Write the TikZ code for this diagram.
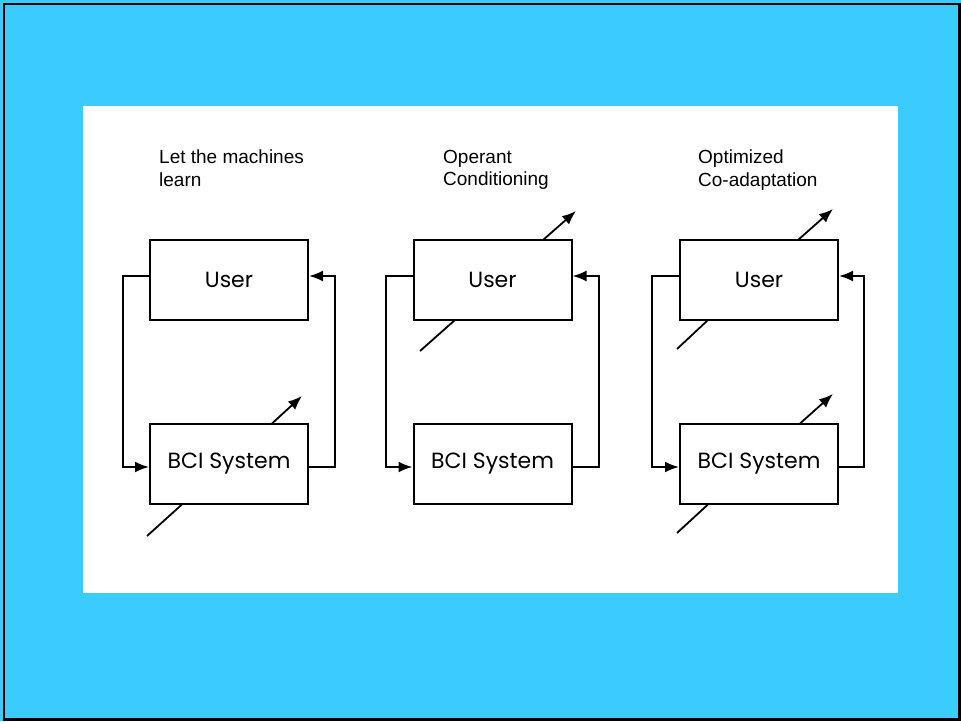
\documentclass[tikz,border=0pt]{standalone}
\usepackage{fontspec}
\setmainfont{Liberation Sans}
\newfontfamily\boxfont{Poppins}
\usetikzlibrary{arrows.meta}
\definecolor{bgblue}{RGB}{58,204,255}
\tikzset{
  px/.style={x=1pt,y=-1pt},
  blk/.style={draw=black, line width=2pt, minimum width=158pt, minimum height=80pt, inner sep=0pt, font=\boxfont\fontsize{22}{26}\selectfont},
  conn/.style={line width=2pt, -{Latex[length=14pt,width=11pt]}},
  ttl/.style={anchor=north west, align=left, inner sep=0pt, font=\fontsize{19}{22.5}\selectfont},
  var/.style={line width=1.8pt},
  vararr/.style={line width=1.8pt, -{Latex[length=14pt,width=11pt]}}
}
\begin{document}
\begin{tikzpicture}[px]
\useasboundingbox (0,0) rectangle (961,721);
\fill[bgblue] (0,0) rectangle (961,721);
\draw[black, line width=2.5pt] (4,4) rectangle (959.5,719.5);
\fill[white] (83,106) rectangle (898,593);

% Panel 1
\node[ttl] (t1) at (159,150) {Let the machines\\learn};
\node[blk] (u1) at (229,280) {User};
\node[blk] (b1) at (229,463.5) {BCI System};
\coordinate (l1a) at (123,276);
\coordinate (l1b) at (123,467);
\coordinate (r1a) at (335,467);
\coordinate (r1b) at (335,276);
\draw[conn] (u1.west |- l1a) -- (l1a) -- (l1b) -- (b1.west |- l1b);
\draw[conn] (b1.east |- r1a) -- (r1a) -- (r1b) -- (u1.east |- r1b);
\coordinate (v1a) at (147,536);
\coordinate (v1b) at (183,503.5);
\coordinate (v1c) at (272,423.5);
\coordinate (v1d) at (302,396);
\draw[var] (v1a) -- (v1b);
\draw[vararr] (v1c) -- (v1d);

% Panel 2
\node[ttl] (t2) at (443,150) {Operant\\Conditioning};
\node[blk] (u2) at (492.5,280) {User};
\node[blk] (b2) at (492.5,463.5) {BCI System};
\coordinate (l2a) at (386,276);
\coordinate (l2b) at (386,467);
\coordinate (r2a) at (599,467);
\coordinate (r2b) at (599,276);
\draw[conn] (u2.west |- l2a) -- (l2a) -- (l2b) -- (b2.west |- l2b);
\draw[conn] (b2.east |- r2a) -- (r2a) -- (r2b) -- (u2.east |- r2b);
\coordinate (v2a) at (420,351);
\coordinate (v2b) at (455,320);
\coordinate (v2c) at (543,240);
\coordinate (v2d) at (576,211);
\draw[var] (v2a) -- (v2b);
\draw[vararr] (v2c) -- (v2d);

% Panel 3
\node[ttl] (t3) at (698,150) {Optimized\\Co-adaptation};
\node[blk] (u3) at (759,280) {User};
\node[blk] (b3) at (759,463.5) {BCI System};
\coordinate (l3a) at (652,276);
\coordinate (l3b) at (652,467);
\coordinate (r3a) at (864,467);
\coordinate (r3b) at (864,276);
\draw[conn] (u3.west |- l3a) -- (l3a) -- (l3b) -- (b3.west |- l3b);
\draw[conn] (b3.east |- r3a) -- (r3a) -- (r3b) -- (u3.east |- r3b);
\coordinate (v3a) at (677,349);
\coordinate (v3b) at (708,320);
\coordinate (v3c) at (798,240);
\coordinate (v3d) at (833,209);
\draw[var] (v3a) -- (v3b);
\draw[vararr] (v3c) -- (v3d);
\coordinate (v3e) at (677,533);
\coordinate (v3f) at (709,503.5);
\coordinate (v3g) at (800,423.5);
\coordinate (v3h) at (833,394);
\draw[var] (v3e) -- (v3f);
\draw[vararr] (v3g) -- (v3h);
\end{tikzpicture}
\end{document}
